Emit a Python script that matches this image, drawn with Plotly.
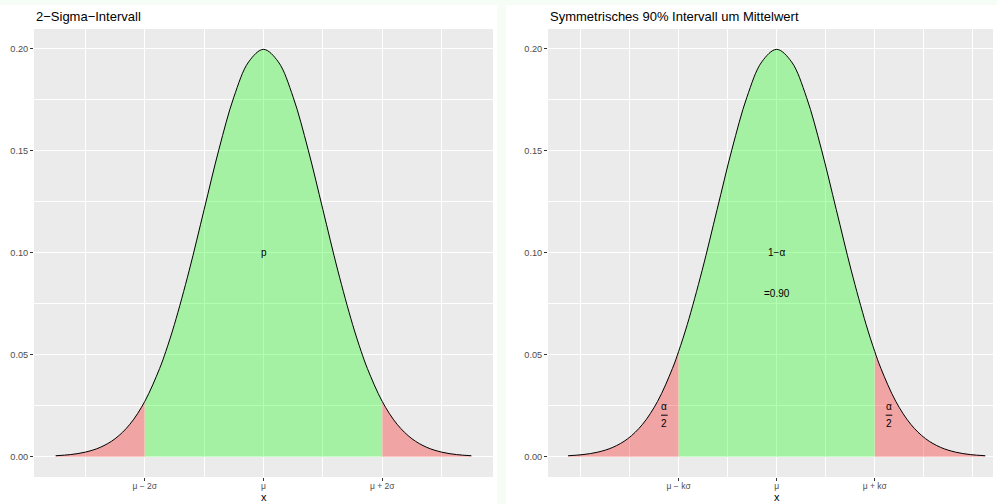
import plotly.graph_objects as go

# ---- data (normal density, mu = 0, sigma = 2) ----
x_vals = [-7.0, -6.5, -6.0, -5.5, -5.0, -4.5, -4.0, -3.5, -3.29, -3.0, -2.5, -2.0, -1.5, -1.0, -0.5,
          0.0, 0.5, 1.0, 1.5, 2.0, 2.5, 3.0, 3.29, 3.5, 4.0, 4.5, 5.0, 5.5, 6.0, 6.5, 7.0]
dens = [0.00044, 0.00101, 0.00222, 0.00455, 0.00876, 0.01587, 0.02700, 0.04314, 0.05156, 0.06476,
        0.09132, 0.12099, 0.15057, 0.17603, 0.19333, 0.19947, 0.19333, 0.17603, 0.15057, 0.12099,
        0.09132, 0.06476, 0.05156, 0.04314, 0.02700, 0.01587, 0.00876, 0.00455, 0.00222, 0.00101, 0.00044]

left_bounds = [-4.0, 4.0]          # mu -/+ 2 sigma
right_bounds = [-3.29, 3.29]       # mu -/+ k sigma (90%)
left_ticks = [-4.0, 0.0, 4.0]
left_ticktext = ["μ − 2σ", "μ", "μ + 2σ"]
left_minor = [-6.0, -2.0, 2.0, 6.0]
right_ticks = [-3.29, 0.0, 3.29]
right_ticktext = ["μ − kσ", "μ", "μ + kσ"]
right_minor = [-6.58, -4.935, -1.645, 1.645, 4.935, 6.58]
y_ticks = [0.0, 0.05, 0.10, 0.15, 0.20]
y_ticktext = ["0.00", "0.05", "0.10", "0.15", "0.20"]
y_minor = [0.025, 0.075, 0.125, 0.175]
titles = ["2−Sigma−Intervall", "Symmetrisches 90% Intervall um Mittelwert"]

RED = "rgba(255,0,0,0.3)"
GREEN = "rgba(0,255,0,0.3)"
FONT = "Liberation Sans, Arial, sans-serif"
TINT = "#f6fdf6"

W, H = 997, 504


def seg(lo, hi):
    xs = [x for x in x_vals if lo <= x <= hi]
    ys = [d for x, d in zip(x_vals, dens) if lo <= x <= hi]
    return xs, ys


fig = go.Figure()


def add_panel(xa, ya, bounds):
    lo, hi = bounds
    parts = [(min(x_vals), lo, RED), (lo, hi, GREEN), (hi, max(x_vals), RED)]
    for a, b, col in parts:
        xs, ys = seg(a, b)
        fig.add_trace(go.Scatter(x=xs, y=ys, mode="lines", fill="tozeroy", fillcolor=col,
                                 line=dict(width=0, shape="spline", smoothing=1.0),
                                 xaxis=xa, yaxis=ya, hoverinfo="skip", showlegend=False))
    fig.add_trace(go.Scatter(x=x_vals, y=dens, mode="lines",
                             line=dict(color="black", width=1, shape="spline", smoothing=1.0),
                             xaxis=xa, yaxis=ya, hoverinfo="skip", showlegend=False))


add_panel("x", "y", left_bounds)
add_panel("x2", "y2", right_bounds)

yr = [-0.00997, 0.20944]
ydom = [1 - 477 / H, 1 - 29 / H]

common_x = dict(showgrid=True, gridcolor="white", gridwidth=1.1, zeroline=False,
                ticks="outside", ticklen=3, tickwidth=1, tickcolor="#333333",
                tickfont=dict(size=8.5, color="#4d4d4d", family=FONT), showline=False,
                tickmode="array", ticklabelstandoff=-2)
common_y = dict(range=yr, domain=ydom, showgrid=True, gridcolor="white", gridwidth=1.1,
                zeroline=False, ticks="outside", ticklen=3, tickwidth=1, tickcolor="#333333",
                tickfont=dict(size=9.2, color="#4d4d4d", family=FONT), showline=False,
                tickmode="array", tickvals=y_ticks, ticktext=y_ticktext,
                minor=dict(tickvals=y_minor, showgrid=True, gridcolor="white", gridwidth=0.5, ticks=""))

fig.update_layout(
    width=W, height=H, margin=dict(l=0, r=0, t=0, b=0),
    paper_bgcolor="white", plot_bgcolor="#ebebeb",
    font=dict(family=FONT),
    xaxis=dict(domain=[34 / W, 493 / W], anchor="y", range=[-7.73, 7.73],
               tickvals=left_ticks, ticktext=left_ticktext,
               minor=dict(tickvals=left_minor, showgrid=True, gridcolor="white", gridwidth=0.5, ticks=""),
               **common_x),
    yaxis=dict(anchor="x", **common_y),
    xaxis2=dict(domain=[548 / W, 993 / W], anchor="y2", range=[-7.675, 7.26],
                tickvals=right_ticks, ticktext=right_ticktext,
                minor=dict(tickvals=right_minor, showgrid=True, gridcolor="white", gridwidth=0.5, ticks=""),
                **common_x),
    yaxis2=dict(anchor="x2", **common_y),
)

# faint tinted page strips (top band and gap between panels)
fig.add_shape(type="rect", xref="paper", yref="paper", x0=0, x1=1, y0=1 - 5 / H, y1=1,
              fillcolor=TINT, line=dict(width=0), layer="below")
fig.add_shape(type="rect", xref="paper", yref="paper", x0=497 / W, x1=506 / W, y0=0, y1=1,
              fillcolor=TINT, line=dict(width=0), layer="below")

# titles
for xpos, t in zip([34 / W, 548 / W], titles):
    fig.add_annotation(text=t, xref="paper", yref="paper", x=xpos, y=1 - 16 / H,
                       xanchor="left", yanchor="middle", showarrow=False,
                       font=dict(size=13, color="black", family=FONT))

# axis titles
for xpos in [(34 + 493) / 2 / W, 776.7 / W]:
    fig.add_annotation(text="x", xref="paper", yref="paper", x=xpos, y=0,
                       xanchor="center", yanchor="bottom", showarrow=False, borderpad=0,
                       font=dict(size=11, color="black", family=FONT))

# in-plot labels
txt = dict(showarrow=False, font=dict(size=10, color="black", family=FONT))
fig.add_annotation(text="p", x=0, y=0.10, xref="x", yref="y", **txt)
fig.add_annotation(text="1−α", x=0, y=0.10, xref="x2", yref="y2", **txt)
fig.add_annotation(text="=0.90", x=0, y=0.08, xref="x2", yref="y2", **txt)
for xc in [-3.77, 3.77]:
    fig.add_annotation(text="α", x=xc, y=0.0245, xref="x2", yref="y2", **txt)
    fig.add_annotation(text="2", x=xc, y=0.0160, xref="x2", yref="y2", **txt)
    fig.add_shape(type="line", xref="x2", yref="y2", x0=xc - 0.11, x1=xc + 0.11, y0=0.0203, y1=0.0203,
                  line=dict(color="black", width=1))

fig.write_html("out.html", config={"displayModeBar": False},
               post_script="document.body.style.margin='0';")
